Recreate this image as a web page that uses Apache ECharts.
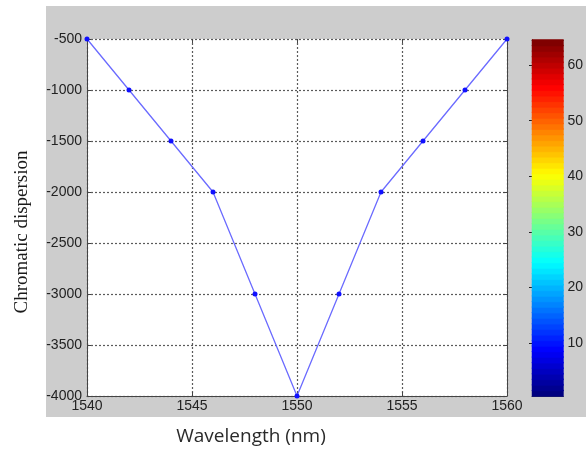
<!DOCTYPE html>
<html>
<head>
<meta charset="utf-8">
<script src="https://cdn.jsdelivr.net/npm/echarts@6/dist/echarts.min.js"></script>
<style>
  html, body { margin: 0; padding: 0; background: #ffffff; }
  #chart { width: 586px; height: 450px; }
</style>
</head>
<body>
<div id="chart"></div>
<script>
// Chromatic dispersion versus wavelength
const wavelength = [1540, 1542, 1544, 1546, 1548, 1550, 1552, 1554, 1556, 1558, 1560];
const dispersion = [-500, -1000, -1500, -2000, -3000, -4000, -3000, -2000, -1500, -1000, -500];

// Colour bar levels (64-step jet map) and its tick labels
const colorLevels = [1, 2, 3, 4, 5, 6, 7, 8, 9, 10, 11, 12, 13, 14, 15, 16,
  17, 18, 19, 20, 21, 22, 23, 24, 25, 26, 27, 28, 29, 30, 31, 32,
  33, 34, 35, 36, 37, 38, 39, 40, 41, 42, 43, 44, 45, 46, 47, 48,
  49, 50, 51, 52, 53, 54, 55, 56, 57, 58, 59, 60, 61, 62, 63, 64];
const colorTicks = [10, 20, 30, 40, 50, 60];

function jet(v, min, max) {
  const t = (v - min) / (max - min);
  const c = x => Math.round(255 * Math.max(0, Math.min(1, x)));
  const r = c(1.5 - Math.abs(4 * t - 3));
  const g = c(1.5 - Math.abs(4 * t - 2));
  const b = c(1.5 - Math.abs(4 * t - 1));
  return 'rgb(' + r + ',' + g + ',' + b + ')';
}

const chart = echarts.init(document.getElementById('chart'), null, { renderer: 'canvas' });

const labelFont = { fontFamily: 'Arial, "Liberation Sans", sans-serif', fontSize: 14, color: '#222' };
const plain = v => String(v);
const frame = { show: true, lineStyle: { color: '#444', width: 1 } };
const dotted = { show: true, lineStyle: { color: '#5a5a5a', width: 1.2, type: [2, 2] } };
const inTick = { show: true, inside: true, length: 4, lineStyle: { color: '#444' } };

chart.setOption({
  animation: false,
  graphic: [
    { type: 'rect', z: -10, shape: { x: 46, y: 6, width: 540, height: 411 }, style: { fill: '#cdcdcd' } },
    { type: 'text', x: 22, y: 232, rotation: Math.PI / 2,
      style: { text: 'Chromatic dispersion', font: '19px "Liberation Serif", "Times New Roman", serif',
               fill: '#1a1a1a', textAlign: 'center', textVerticalAlign: 'middle' } },
    { type: 'text', x: 251, y: 437,
      style: { text: 'Wavelength (nm)', font: '19px "Open Sans", sans-serif',
               fill: '#2a2a2a', textAlign: 'center', textVerticalAlign: 'middle' } }
  ],
  grid: [
    { left: 87, top: 39, width: 420, height: 357, show: true, backgroundColor: '#ffffff', borderWidth: 0 },
    { left: 532, top: 40, width: 36, height: 356, show: false }
  ],
  xAxis: [
    { type: 'value', gridIndex: 0, min: 1540, max: 1560, interval: 5,
      axisLine: frame, axisTick: inTick,
      axisLabel: Object.assign({ margin: 3, formatter: plain }, labelFont), splitLine: dotted },
    { type: 'value', gridIndex: 0, position: 'top', min: 1540, max: 1560, interval: 5,
      axisLine: { show: false }, axisTick: inTick,
      axisLabel: { show: false }, splitLine: { show: false } },
    { type: 'value', gridIndex: 1, min: 0, max: 1, show: true,
      axisLine: frame, axisTick: { show: false }, axisLabel: { show: false }, splitLine: { show: false } },
    { type: 'value', gridIndex: 1, position: 'top', min: 0, max: 1, show: true,
      axisLine: frame, axisTick: { show: false }, axisLabel: { show: false }, splitLine: { show: false } }
  ],
  yAxis: [
    { type: 'value', gridIndex: 0, min: -4000, max: -500, interval: 500,
      axisLine: frame, axisTick: inTick,
      axisLabel: Object.assign({ margin: 5, formatter: plain }, labelFont), splitLine: dotted },
    { type: 'value', gridIndex: 0, position: 'right', min: -4000, max: -500, interval: 500,
      axisLine: frame, axisTick: inTick,
      axisLabel: { show: false }, splitLine: { show: false } },
    { type: 'value', gridIndex: 1, position: 'right', min: 0.5, max: 64.5,
      axisLine: frame,
      axisTick: { show: true, inside: true, length: 3, customValues: colorTicks, lineStyle: { color: '#222' } },
      axisLabel: Object.assign({ margin: 4, customValues: colorTicks }, labelFont),
      splitLine: { show: false } },
    { type: 'value', gridIndex: 1, position: 'left', min: 0.5, max: 64.5,
      axisLine: frame,
      axisTick: { show: true, inside: true, length: 3, customValues: colorTicks, lineStyle: { color: '#222' } },
      axisLabel: { show: false }, splitLine: { show: false } }
  ],
  series: [
    {
      type: 'line', xAxisIndex: 0, yAxisIndex: 0,
      data: wavelength.map((w, i) => [w, dispersion[i]]),
      lineStyle: { color: '#6b6bff', width: 1.3 },
      symbol: 'circle', symbolSize: 5,
      itemStyle: { color: '#1010ff' },
      z: 5
    },
    {
      type: 'custom', xAxisIndex: 2, yAxisIndex: 2,
      data: colorLevels.map(v => [v]),
      renderItem: function (params, api) {
        const v = api.value(0);
        const p0 = api.coord([0, v - 0.5]);
        const p1 = api.coord([1, v + 0.5]);
        const col = jet(v, 1, 64);
        return {
          type: 'rect',
          shape: { x: p0[0], y: p1[1] - 0.5, width: p1[0] - p0[0], height: p0[1] - p1[1] + 1 },
          style: { fill: col, stroke: col, lineWidth: 0.5 }
        };
      },
      z: 1
    }
  ]
});
</script>
</body>
</html>
